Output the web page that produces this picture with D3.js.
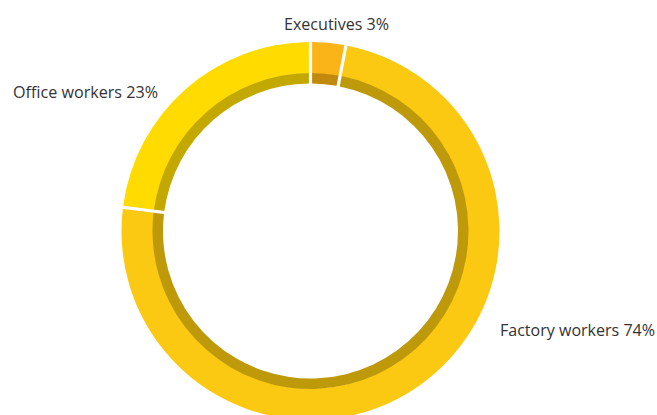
<!DOCTYPE html>
<html><head><meta charset="utf-8">
<script src="https://cdn.jsdelivr.net/npm/d3@7"></script>
<style>html,body{margin:0;padding:0;background:#fff;}svg{display:block;}</style>
</head><body>
<svg id="c" width="657" height="415"></svg>
<script>
const categories = ["Executives", "Factory workers", "Office workers"];
const values = [3, 74, 23];
const colors = ["#FBB417", "#FBC812", "#FFDB00"];
const darkColors = ["#C18A0E", "#BE9A0B", "#C3A800"];

const svg = d3.select("#c");
const cx = 310.5, cy = 231, R = 189, rMid = 157.5, rIn = 147.5;
const g = svg.append("g").attr("transform", `translate(${cx},${cy})`);

const data = categories.map((c, i) => ({cat: c, value: values[i], i}));
const pie = d3.pie().value(d => d.value).sort(null).startAngle(0).endAngle(2 * Math.PI);
const arcs = pie(data);

const pad = 3.2 / R;
const outerArc = d3.arc().innerRadius(rMid).outerRadius(R).padAngle(pad).padRadius(R);
const innerArc = d3.arc().innerRadius(rIn).outerRadius(rMid + 0.5).padAngle(pad).padRadius(R);

g.selectAll("path.o").data(arcs).join("path").attr("class", "o")
  .attr("d", outerArc).attr("fill", d => colors[d.data.i]);
g.selectAll("path.in").data(arcs).join("path").attr("class", "in")
  .attr("d", innerArc).attr("fill", d => darkColors[d.data.i]);

const labels = [
  {x: 284, y: 30, w: 105},
  {x: 500, y: 336, w: 155},
  {x: 13, y: 98, w: 145}
];
svg.selectAll("text.l").data(data).join("text").attr("class", "l")
  .attr("x", d => labels[d.i].x).attr("y", d => labels[d.i].y)
  .attr("textLength", d => labels[d.i].w).attr("lengthAdjust", "spacingAndGlyphs")
  .attr("font-family", "'Open Sans', 'Noto Sans', sans-serif").attr("font-size", 16)
  .attr("fill", "#333")
  .text(d => `${d.cat} ${d.value}%`);
</script>
</body></html>
